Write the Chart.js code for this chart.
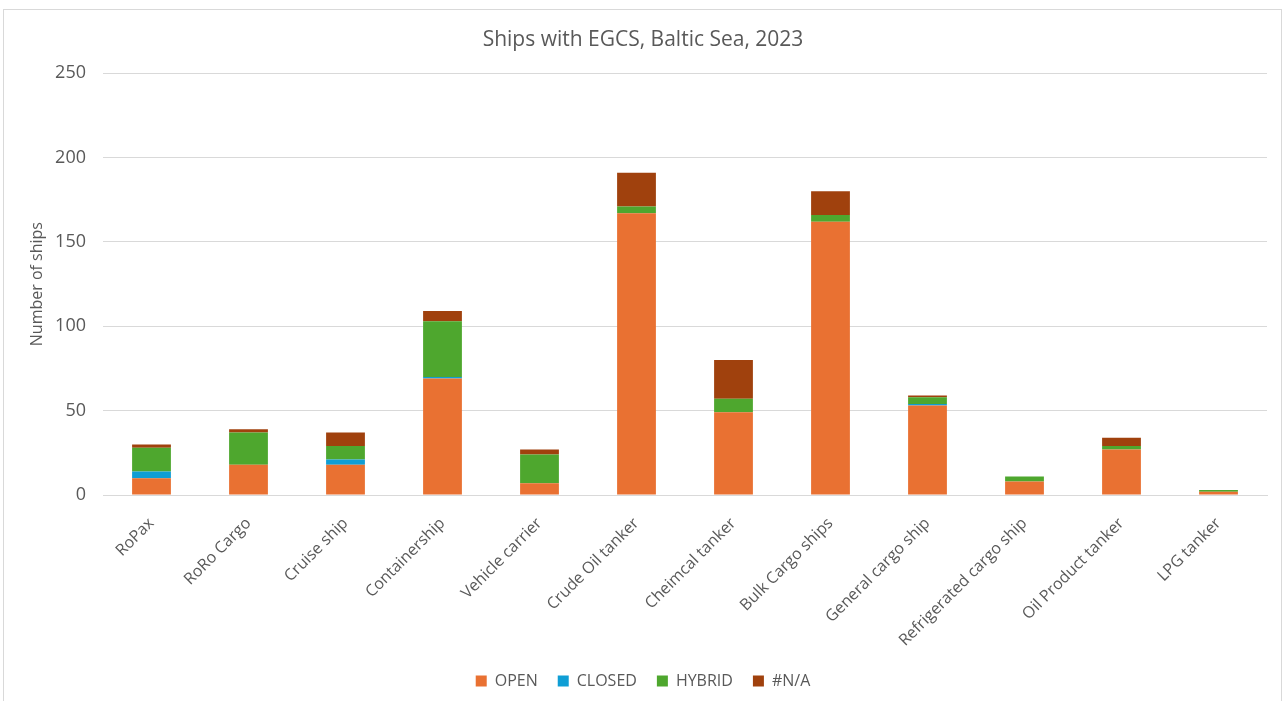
<!DOCTYPE html>
<html>
<head>
<meta charset="utf-8">
<title>Ships with EGCS, Baltic Sea, 2023</title>
<script src="https://cdn.jsdelivr.net/npm/chart.js@4/dist/chart.umd.min.js"></script>
<style>
  html, body { margin: 0; padding: 0; background: #ffffff; }
  #frame {
    position: absolute; left: 3px; top: 9px; width: 1279px; height: 700px;
    border: 1px solid #d9d9d9; border-bottom: none; box-sizing: border-box;
  }
  #wrap { position: absolute; left: 0; top: 0; width: 1278px; height: 691px; }
</style>
</head>
<body>
<div id="frame"><div id="wrap"><canvas id="chart"></canvas></div></div>
<script>
// Ship categories and number of ships per scrubber (EGCS) type
const categories = [
  "RoPax", "RoRo Cargo", "Cruise ship", "Containership", "Vehicle carrier",
  "Crude Oil tanker", "Cheimcal tanker", "Bulk Cargo ships", "General cargo ship",
  "Refrigerated cargo ship", "Oil Product tanker", "LPG tanker"
];
const openValues   = [10, 18, 18, 69, 7, 167, 49, 162, 53, 8, 27, 2];
const closedValues = [4,  0,  3,  1,  0, 0,   0,  0,   1,  0, 0,  0];
const hybridValues = [14, 19, 8,  33, 17, 4,  8,  4,   4,  3, 2,  1];
const naValues     = [2,  2,  8,  6,  3, 20,  23, 14,  1,  0, 5,  0];
const yTicks = [0, 50, 100, 150, 200, 250];

const textColor = "#595959";
const gridColor = "#d9d9d9";
const fontFamily = "'Open Sans', 'Liberation Sans', Arial, sans-serif";

const series = [
  { label: "OPEN",   data: openValues,   color: "#e97132" },
  { label: "CLOSED", data: closedValues, color: "#0f9ed5" },
  { label: "HYBRID", data: hybridValues, color: "#4ea72e" },
  { label: "#N/A",   data: naValues,     color: "#a0410d" }
];

new Chart(document.getElementById("chart"), {
  type: "bar",
  data: {
    labels: categories,
    datasets: series.map(s => ({
      label: s.label,
      data: s.data,
      backgroundColor: s.color,
      borderWidth: 0,
      categoryPercentage: 1.0,
      barPercentage: 0.4
    }))
  },
  options: {
    responsive: true,
    maintainAspectRatio: false,
    animation: false,
    layout: { padding: { left: 0, right: 0, top: 0, bottom: 2 } },
    plugins: {
      title: {
        display: true,
        text: "Ships with EGCS, Baltic Sea, 2023",
        color: textColor,
        font: { family: fontFamily, size: 21, weight: "normal" },
        padding: { top: 17, bottom: 21 }
      },
      legend: {
        position: "bottom",
        labels: {
          color: textColor,
          font: { family: fontFamily, size: 16 },
          boxWidth: 11,
          boxHeight: 11,
          padding: 20
        }
      },
      tooltip: { enabled: false }
    },
    scales: {
      x: {
        stacked: true,
        grid: { display: false, drawTicks: false },
        border: { display: true, color: gridColor, width: 1 },
        ticks: {
          color: textColor,
          font: { family: fontFamily, size: 16 },
          minRotation: 45,
          maxRotation: 45,
          padding: 19,
          autoSkip: false
        },
        afterFit(scale) { scale.height = 158; }
      },
      y: {
        stacked: true,
        min: 0,
        max: 250,
        afterBuildTicks(scale) { scale.ticks = yTicks.map(v => ({ value: v })); },
        grid: { color: gridColor, lineWidth: 1, drawTicks: false },
        border: { display: false },
        ticks: {
          color: textColor,
          font: { family: fontFamily, size: 18 },
          padding: 17
        },
        title: {
          display: true,
          text: "Number of ships",
          color: textColor,
          font: { family: fontFamily, size: 16 },
          padding: { top: 24, bottom: 0 }
        },
        afterFit(scale) { scale.width = 99; }
      },
      // empty margin strip on the right of the plot area
      yRight: {
        position: "right",
        display: true,
        grid: { display: false, drawTicks: false },
        border: { display: false },
        ticks: { display: false },
        afterFit(scale) { scale.width = 15; }
      }
    }
  }
});
</script>
</body>
</html>
